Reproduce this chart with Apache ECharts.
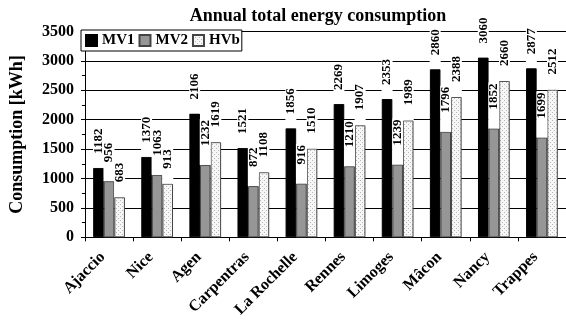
<!DOCTYPE html>
<html>
<head>
<meta charset="utf-8">
<script src="https://cdn.jsdelivr.net/npm/echarts@6/dist/echarts.min.js"></script>
<style>html,body{margin:0;padding:0;background:#fff}#c{width:566px;height:320px}</style>
</head>
<body>
<div id="c"></div>
<script>
var categories = ['Ajaccio', 'Nice', 'Agen', 'Carpentras', 'La Rochelle', 'Rennes', 'Limoges', 'Mâcon', 'Nancy', 'Trappes'];
var mv1 = [1182, 1370, 2106, 1521, 1856, 2269, 2353, 2860, 3060, 2877];
var mv2 = [956, 1063, 1232, 872, 916, 1210, 1239, 1796, 1852, 1699];
var hvb = [683, 913, 1619, 1108, 1510, 1907, 1989, 2388, 2660, 2512];
var yTicks = { min: 0, max: 3500, interval: 500 };

var FONT = 'Liberation Serif';

function dotPattern() {
  var c = document.createElement('canvas');
  c.width = 4; c.height = 4;
  var g = c.getContext('2d');
  g.fillStyle = '#f6f6f6'; g.fillRect(0, 0, 4, 4);
  g.fillStyle = '#b8b8b8';
  g.fillRect(0, 0, 1, 1); g.fillRect(2, 2, 1, 1);
  return { image: c, repeat: 'repeat' };
}
var hatch = dotPattern();

function labelStyle(gap) {
  return {
    show: true,
    position: 'top',
    distance: 0,
    rotate: 90,
    align: 'left',
    verticalAlign: 'middle',
    fontFamily: FONT,
    fontWeight: 'bold',
    fontSize: 13,
    lineHeight: 11,
    color: '#000',
    backgroundColor: '#fff',
    padding: [0, 1, 0, gap]
  };
}

function mkSeries(name, data, color, border, gap) {
  return {
    name: name,
    type: 'bar',
    data: data,
    barGap: '0%',
    barCategoryGap: '34%',
    itemStyle: { color: color, borderColor: border, borderWidth: 1 },
    label: labelStyle(gap)
  };
}

var chart = echarts.init(document.getElementById('c'), null, { renderer: 'canvas' });
chart.setOption({
  animation: false,
  backgroundColor: '#fff',
  title: {
    text: 'Annual total energy consumption',
    left: 313,
    textAlign: 'center',
    top: 2,
    textStyle: { fontFamily: FONT, fontWeight: 'bold', fontSize: 18, color: '#000' }
  },
  legend: {
    left: 81,
    top: 30,
    orient: 'horizontal',
    itemWidth: 11,
    itemHeight: 11,
    itemGap: 4,
    itemTextGap: 3,
    padding: [3, 2, 3, 4],
    borderColor: '#000',
    borderWidth: 1,
    backgroundColor: '#fff',
    icon: 'rect',
    textStyle: { fontFamily: FONT, fontWeight: 'bold', fontSize: 15, color: '#000' },
    data: ['MV1', 'MV2', 'HVb']
  },
  grid: { left: 81.7, right: -4.1, top: 31.5, bottom: 80.5, containLabel: false },
  xAxis: {
    type: 'category',
    data: categories,
    axisLine: { lineStyle: { color: '#000', width: 1 } },
    axisTick: { show: true, length: 4, lineStyle: { color: '#000' } },
    axisLabel: {
      interval: 0,
      rotate: 45,
      margin: 11,
      padding: [0, 9, 0, 0],
      fontFamily: FONT,
      fontWeight: 'bold',
      fontSize: 16,
      color: '#000'
    }
  },
  yAxis: {
    type: 'value',
    min: yTicks.min,
    max: yTicks.max,
    interval: yTicks.interval,
    name: 'Consumption [kWh]',
    nameLocation: 'middle',
    nameGap: 59,
    nameTextStyle: { fontFamily: FONT, fontWeight: 'bold', fontSize: 18, color: '#000' },
    axisLine: { show: true, lineStyle: { color: '#000', width: 1 } },
    axisTick: { show: true, length: 4, lineStyle: { color: '#000' } },
    minorTick: { show: true, splitNumber: 2, length: 3, lineStyle: { color: '#000' } },
    splitLine: { show: true, lineStyle: { color: '#000', width: 1 } },
    axisLabel: {
      margin: 11,
      fontFamily: FONT,
      fontWeight: 'bold',
      fontSize: 16,
      color: '#000',
      formatter: function (v) { return String(v); }
    }
  },
  series: [
    mkSeries('MV1', mv1, '#000', '#000', 14),
    mkSeries('MV2', mv2, '#969696', '#444', 19),
    mkSeries('HVb', hvb, hatch, '#444', 15)
  ]
});
</script>
</body>
</html>
